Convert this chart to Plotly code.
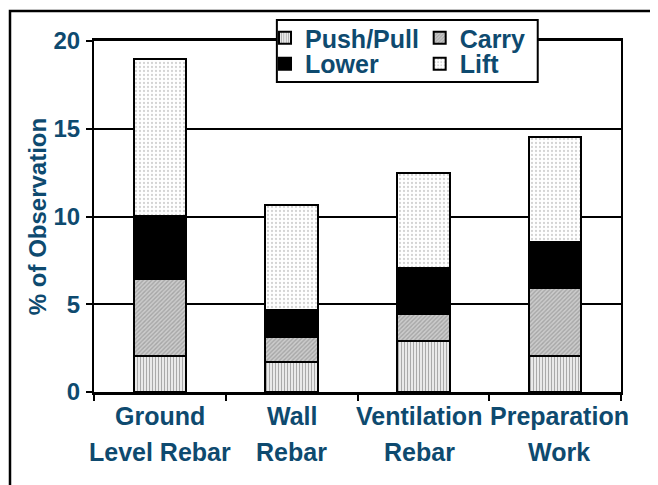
import plotly.graph_objects as go

categories = ["Ground Level Rebar", "Wall Rebar", "Ventilation Rebar", "Preparation Work"]
label_line1 = ["Ground", "Wall", "Ventilation", "Preparation"]
label_line2 = ["Level Rebar", "Rebar", "Rebar", "Work"]
push_pull = [2.05, 1.70, 2.92, 2.03]
carry = [4.37, 1.42, 1.55, 3.92]
lower = [3.63, 1.56, 2.58, 2.60]
lift = [8.95, 6.00, 5.42, 6.00]
y_ticks = [0, 5, 10, 15, 20]

# small horizontal nudges of the category labels (style only)
label_nudge = [0, 0, -4, 4]

TXT = "#0e4a6f"
FONT = "Liberation Sans"
FS = 24

fig = go.Figure()

series = [
    ("Push/Pull", push_pull, dict(shape="|", size=3, solidity=0.5, fgcolor="#555555", bgcolor="white"), "legend"),
    ("Carry", carry, dict(shape="/", size=3, solidity=0.45, fgcolor="#808080", bgcolor="#cccccc"), "legend2"),
    ("Lower", lower, None, "legend3"),
    ("Lift", lift, dict(shape=".", size=4, solidity=0.25, fgcolor="#a8a8a8", bgcolor="white"), "legend4"),
]
for name, vals, pat, leg in series:
    marker = dict(color="black" if pat is None else "white", line=dict(color="black", width=2))
    if pat is not None:
        marker["pattern"] = pat
    fig.add_trace(go.Bar(x=categories, y=vals, name=name, marker=marker, width=0.4, legend=leg))

legend_common = dict(xanchor="left", yanchor="middle", bgcolor="rgba(0,0,0,0)", borderwidth=0,
                     font=dict(family=FONT, size=25, color=TXT, weight="bold"), itemwidth=30)
fig.update_layout(
    legend=dict(x=0.3245, y=1.0085, **legend_common),
    legend2=dict(x=0.618, y=1.0085, **legend_common),
    legend3=dict(x=0.3245, y=0.9345, **legend_common),
    legend4=dict(x=0.618, y=0.9345, **legend_common),
)

for c, l1, l2, dx in zip(categories, label_line1, label_line2, label_nudge):
    for txt, shift in ((l1, -24), (l2, -60)):
        fig.add_annotation(x=c, y=0, xref="x", yref="y", text=txt, showarrow=False,
                           yanchor="middle", yshift=shift, xshift=dx,
                           font=dict(family=FONT, size=25, color=TXT, weight="bold"))

# legend box
fig.add_shape(type="rect", xref="paper", yref="paper", x0=0.347, x1=0.842, y0=0.883, y1=1.0598,
              line=dict(color="black", width=2), fillcolor="white", layer="above")
# outer frame
fig.add_shape(type="rect", xref="paper", yref="paper", x0=-0.1594, x1=1.3, y0=-0.5, y1=1.0855,
              line=dict(color="black", width=2.5), fillcolor="rgba(0,0,0,0)", layer="above")

fig.update_layout(
    barmode="stack",
    width=650, height=477,
    margin=dict(l=86, r=37, t=33, b=93, autoexpand=False),
    plot_bgcolor="white", paper_bgcolor="white",
    showlegend=True,
    font=dict(family=FONT, size=FS, color=TXT),
)
fig.update_xaxes(
    categoryorder="array", categoryarray=categories, automargin=False,
    range=[-0.5, len(categories) - 0.5], autorange=False,
    showticklabels=False, tickson="boundaries", ticks="outside", ticklen=6, tickwidth=2, tickcolor="black",
    showline=True, linecolor="black", linewidth=2.5, mirror=True, showgrid=False,
)
fig.update_yaxes(
    range=[0, 20], autorange=False, tickvals=y_ticks, ticks="outside", ticklen=6, tickwidth=2, tickcolor="black",
    automargin=False,
    showline=True, linecolor="black", linewidth=2, mirror=True,
    showgrid=True, gridcolor="black", gridwidth=2, zeroline=False,
    tickfont=dict(family=FONT, size=FS, color=TXT, weight="bold"), ticklabelstandoff=1,
    title=dict(text="% of Observation", font=dict(family=FONT, size=FS, color=TXT, weight="bold"), standoff=0),
)

fig.write_html("out.html")
